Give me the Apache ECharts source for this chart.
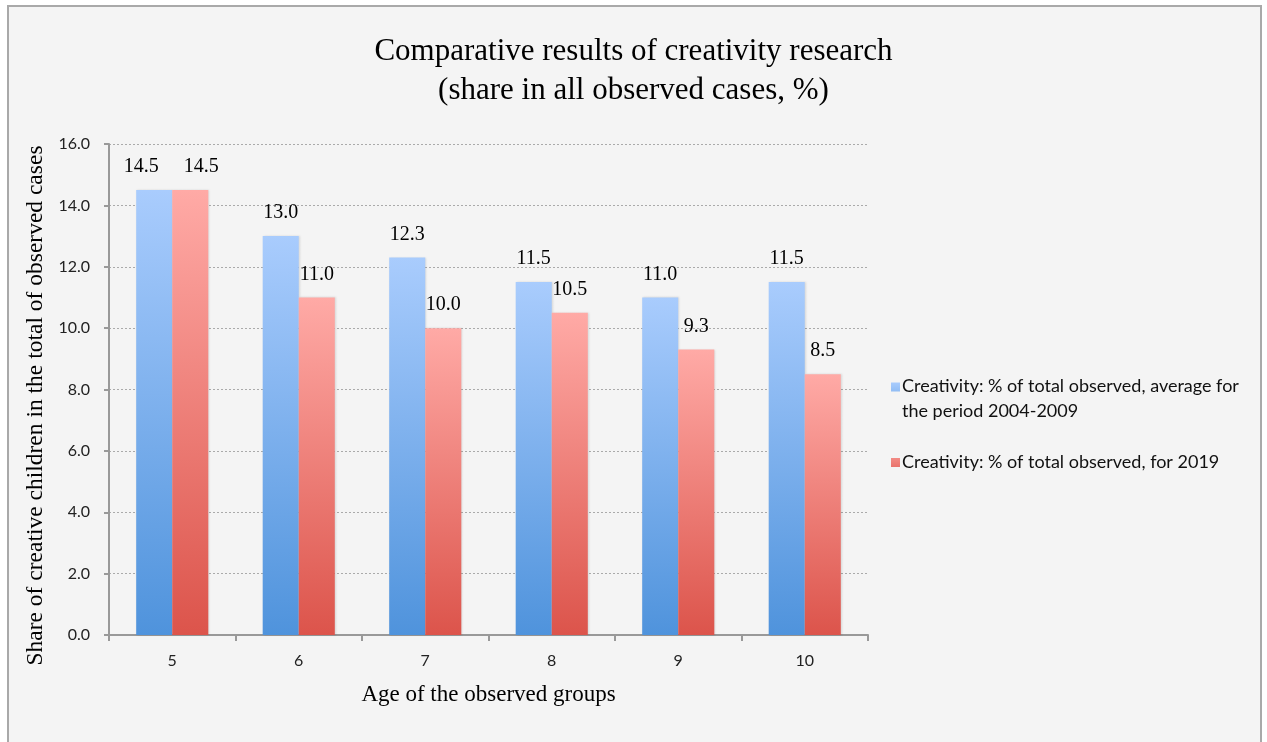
<!DOCTYPE html>
<html>
<head>
<meta charset="utf-8">
<title>Comparative results of creativity research</title>
<script src="https://cdn.jsdelivr.net/npm/echarts@6/dist/echarts.min.js"></script>
<style>
  html, body { margin: 0; padding: 0; background: #ffffff; }
  #chart { width: 1267px; height: 742px; }
</style>
</head>
<body>
<div id="chart"></div>
<script>
// Age groups on the x axis
const ages = ['5', '6', '7', '8', '9', '10'];

// Share of creative children (%), average for 2004-2009
const avg2004to2009 = [14.5, 13.0, 12.3, 11.5, 11.0, 11.5];

// Share of creative children (%), for 2019
const year2019 = [14.5, 11.0, 10.0, 10.5, 9.3, 8.5];

// Y axis range and step
const yMin = 0;
const yMax = 16;
const yStep = 2;

const seriesNames = [
  'Creativity: % of total observed, average for the period 2004-2009',
  'Creativity: % of total observed, for 2019'
];
const legendLines = {
  [seriesNames[0]]: 'Creativity: % of total observed, average for\nthe period 2004-2009',
  [seriesNames[1]]: 'Creativity: % of total observed, for 2019'
};

const serif = '"Liberation Serif", "Times New Roman", serif';
const sans = 'Lato, "Open Sans", "Noto Sans", sans-serif';

function vGradient(top, bottom) {
  return new echarts.graphic.LinearGradient(0, 0, 0, 1, [
    { offset: 0, color: top },
    { offset: 1, color: bottom }
  ]);
}

const labelStyle = {
  show: true,
  position: 'top',
  distance: 13,
  fontFamily: serif,
  fontSize: 20,
  color: '#000',
  formatter: p => p.value.toFixed(1)
};

// Where both bars of a group are equally tall, push their value labels apart
function withLabelSpread(values, other, dx) {
  return values.map((v, i) =>
    v === other[i] ? { value: v, label: { offset: [dx, 0] } } : v
  );
}

const chart = echarts.init(document.getElementById('chart'));
chart.setOption({
  animation: false,
  backgroundColor: '#ffffff',
  graphic: [{
    type: 'rect',
    z: -10,
    silent: true,
    shape: { x: 8, y: 6, width: 1253, height: 745 },
    style: { fill: '#f4f4f4', stroke: '#a9a9a9', lineWidth: 2 }
  }],
  title: {
    text: 'Comparative results of creativity research\n(share in all observed cases, %)',
    left: 'center',
    top: 27,
    textStyle: {
      fontFamily: serif,
      fontSize: 31,
      fontWeight: 'normal',
      color: '#000',
      lineHeight: 39
    }
  },
  legend: {
    orient: 'vertical',
    left: 886,
    top: 369,
    itemWidth: 9,
    itemHeight: 33,
    itemGap: 22,
    data: [
      { name: seriesNames[0], icon: 'path://M0,0L9,0L9,9L0,9Z M0,33L0,33' },
      { name: seriesNames[1], icon: 'path://M0,0L0,0 M0,12L9,12L9,21L0,21Z M0,33L0,33' }
    ],
    formatter: name => legendLines[name],
    textStyle: {
      fontFamily: sans,
      fontSize: 18,
      color: '#111',
      lineHeight: 25,
      padding: [0, 0, 0, -3]
    }
  },
  grid: {
    left: 109,
    top: 144,
    right: 399,
    bottom: 107
  },
  xAxis: {
    type: 'category',
    data: ages,
    name: 'Age of the observed groups',
    nameLocation: 'middle',
    nameGap: 48,
    nameTextStyle: { fontFamily: serif, fontSize: 23, color: '#000' },
    axisLine: { lineStyle: { color: '#999', width: 2 } },
    axisTick: { show: true, length: 6, lineStyle: { color: '#999', width: 2 } },
    axisLabel: { fontFamily: sans, fontSize: 16, color: '#222', margin: 18 }
  },
  yAxis: {
    type: 'value',
    min: yMin,
    max: yMax,
    interval: yStep,
    name: 'Share of creative children in the total of observed cases',
    nameLocation: 'middle',
    nameGap: 59,
    nameTextStyle: {
      fontFamily: serif,
      fontSize: 23.5,
      color: '#000',
      padding: [0, 32, 0, 0]
    },
    axisLine: { show: true, lineStyle: { color: '#999', width: 2 } },
    axisTick: { show: true, length: 5, lineStyle: { color: '#999', width: 2 } },
    axisLabel: {
      fontFamily: sans,
      fontSize: 16,
      color: '#222',
      margin: 19,
      formatter: v => v.toFixed(1)
    },
    splitLine: { show: true, lineStyle: { color: '#aaa', type: [2, 2], width: 1 } }
  },
  series: [
    {
      name: seriesNames[0],
      type: 'bar',
      data: withLabelSpread(avg2004to2009, year2019, -13),
      barGap: '0%',
      barCategoryGap: '43%',
      itemStyle: {
        color: vGradient('#a9ccfd', '#4f93dc'),
        shadowColor: 'rgba(0,0,0,0.12)',
        shadowBlur: 2,
        shadowOffsetX: 1
      },
      label: labelStyle
    },
    {
      name: seriesNames[1],
      type: 'bar',
      data: withLabelSpread(year2019, avg2004to2009, 11),
      itemStyle: {
        color: vGradient('#ffaaa6', '#dc544b'),
        shadowColor: 'rgba(0,0,0,0.12)',
        shadowBlur: 2,
        shadowOffsetX: 1
      },
      label: labelStyle
    }
  ]
});
</script>
</body>
</html>
